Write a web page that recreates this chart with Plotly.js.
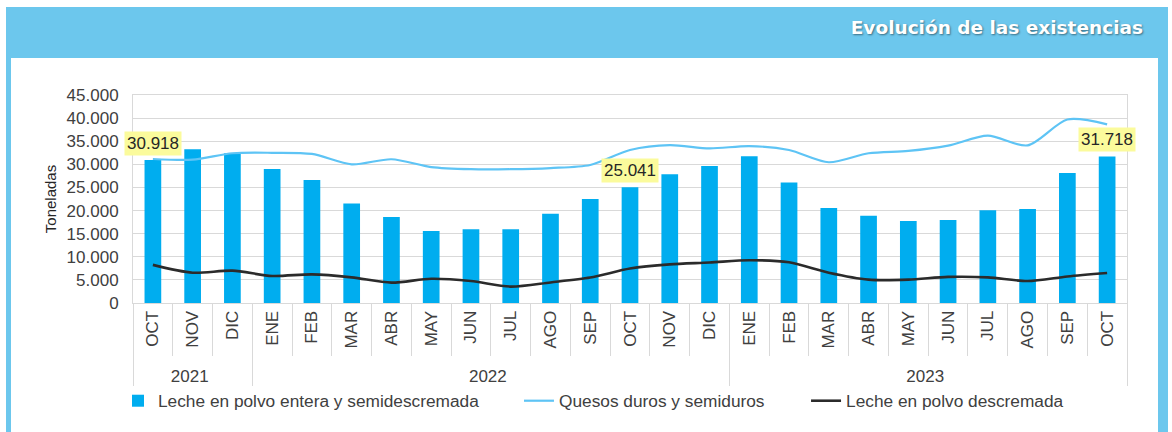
<!DOCTYPE html>
<html>
<head>
<meta charset="utf-8">
<script src="https://cdn.plot.ly/plotly-3.0.1.min.js"></script>
<style>
  html, body { margin:0; padding:0; background:#ffffff; width:1172px; height:432px; overflow:hidden; }
  #frame { position:absolute; left:6px; top:7px; width:1162px; height:425px; background:#6cc7ed; }
  #panel { position:absolute; left:11px; top:58px; width:1147px; height:374px; background:#ffffff; }
  #chart { position:absolute; left:0; top:0; width:1172px; height:432px; }
</style>
</head>
<body>
<div id="frame"></div>
<div id="panel"></div>
<div id="chart"></div>
<script>
// ---- Data ----
const months = ['OCT','NOV','DIC','ENE','FEB','MAR','ABR','MAY','JUN','JUL','AGO','SEP','OCT','NOV','DIC','ENE','FEB','MAR','ABR','MAY','JUN','JUL','AGO','SEP','OCT'];
const years  = ['2021','2021','2021','2022','2022','2022','2022','2022','2022','2022','2022','2022','2022','2022','2022','2023','2023','2023','2023','2023','2023','2023','2023','2023','2023'];
const lecheEntera = [30918,33250,32400,29000,26600,21500,18600,15600,15950,15950,19300,22500,25041,27850,29650,31750,26050,20550,18900,17750,17950,20050,20350,28150,31718];
const quesos = [31150,31000,32400,32500,32250,30000,31100,29400,28950,28950,29200,29850,33100,34150,33450,33950,33100,30450,32400,32900,34050,36200,34100,39700,38650];
const lecheDescremada = [8250,6550,7000,5850,6200,5550,4400,5250,4750,3550,4450,5500,7450,8350,8750,9250,8800,6550,5050,5050,5650,5550,4750,5750,6500];
const highlighted = [0, 12, 24];
const seriesNames = ['Leche en polvo entera y semidescremada','Quesos duros y semiduros','Leche en polvo descremada'];
const chartTitle = 'Evolución de las existencias';

const FONT = 'Arial, "Liberation Sans", sans-serif';
const TXT = '#404040';
const FS = 17;

// Plotly's multicategory axis orders inner labels by first appearance; make repeated
// month labels unique with invisible zero-width spaces so chronological order is kept.
const seen = {};
const monthLabels = months.map(m => { seen[m] = (seen[m] || 0) + 1; return m + '\u200b'.repeat(seen[m] - 1); });
const xcat = [years, monthLabels];

const traces = [
  { type:'bar', x:xcat, y:lecheEntera, name:seriesNames[0], marker:{color:'#00adef'}, width:0.42, legend:'legend' },
  { type:'scatter', mode:'lines', x:xcat, y:quesos, name:seriesNames[1], line:{color:'#5ec4f5', width:2.2, shape:'spline', smoothing:0.8}, legend:'legend2' },
  { type:'scatter', mode:'lines', x:xcat, y:lecheDescremada, name:seriesNames[2], line:{color:'#2b2b2b', width:2.6, shape:'spline', smoothing:0.8}, legend:'legend3' }
];

const fmt = v => v.toString().replace(/\B(?=(\d{3})+(?!\d))/g, '.');
const annotations = highlighted.map(i => ({
  x: i, y: lecheEntera[i], xref:'x', yref:'y', text: fmt(lecheEntera[i]), showarrow:false,
  yanchor:'bottom', yshift: 4, bgcolor:'#fbfb9c', borderpad:2,
  font:{family:FONT, size:FS, color:'#262626'}
}));

const legendBase = { orientation:'h', y:-0.471, yanchor:'middle', xanchor:'left', font:{family:FONT, size:17.3, color:TXT}, bgcolor:'rgba(0,0,0,0)' };

const layout = {
  width:1172, height:432,
  paper_bgcolor:'rgba(0,0,0,0)', plot_bgcolor:'#ffffff',
  margin:{l:133, r:45, t:95, b:129},
  separators:',.',
  title:{ text:chartTitle, xref:'container', yref:'container', x:1143/1172, xanchor:'right', y:1-28/432, yanchor:'middle',
          font:{family:'"DejaVu Sans", sans-serif', size:18.5, weight:700, color:'#ffffff', shadow:'1px 1px 2px rgba(0,0,0,0.45)'} },
  showlegend:true,
  legend:  Object.assign({}, legendBase, { x:-0.0151 }),
  legend2: Object.assign({}, legendBase, { x:0.3883 }),
  legend3: Object.assign({}, legendBase, { x:0.6771 }),
  xaxis:{ type:'multicategory', range:[-0.5, months.length - 0.5], autorange:false,
          tickangle:-90, tickfont:{family:FONT, size:FS, color:TXT}, automargin:false,
          showgrid:false, showline:true, linecolor:'#d9d9d9', mirror:true,
          ticks:'outside', tickson:'boundaries', ticklen:52, tickcolor:'#d9d9d9',
          showdividers:true, dividercolor:'#d9d9d9', dividerwidth:1 },
  yaxis:{ range:[0,45000], dtick:5000, tickformat:',d', tickfont:{family:FONT, size:FS, color:TXT}, automargin:false,
          gridcolor:'#d9d9d9', gridwidth:1, zeroline:false, showline:true, linecolor:'#d9d9d9', mirror:true,
          ticks:'outside', ticklen:10, tickcolor:'rgba(0,0,0,0)',
          title:{text:'Toneladas', font:{family:FONT, size:15, color:'#262626'}, standoff:6} },
  annotations: annotations
};

Plotly.newPlot('chart', traces, layout, {displayModeBar:false, staticPlot:true});
</script>
</body>
</html>
